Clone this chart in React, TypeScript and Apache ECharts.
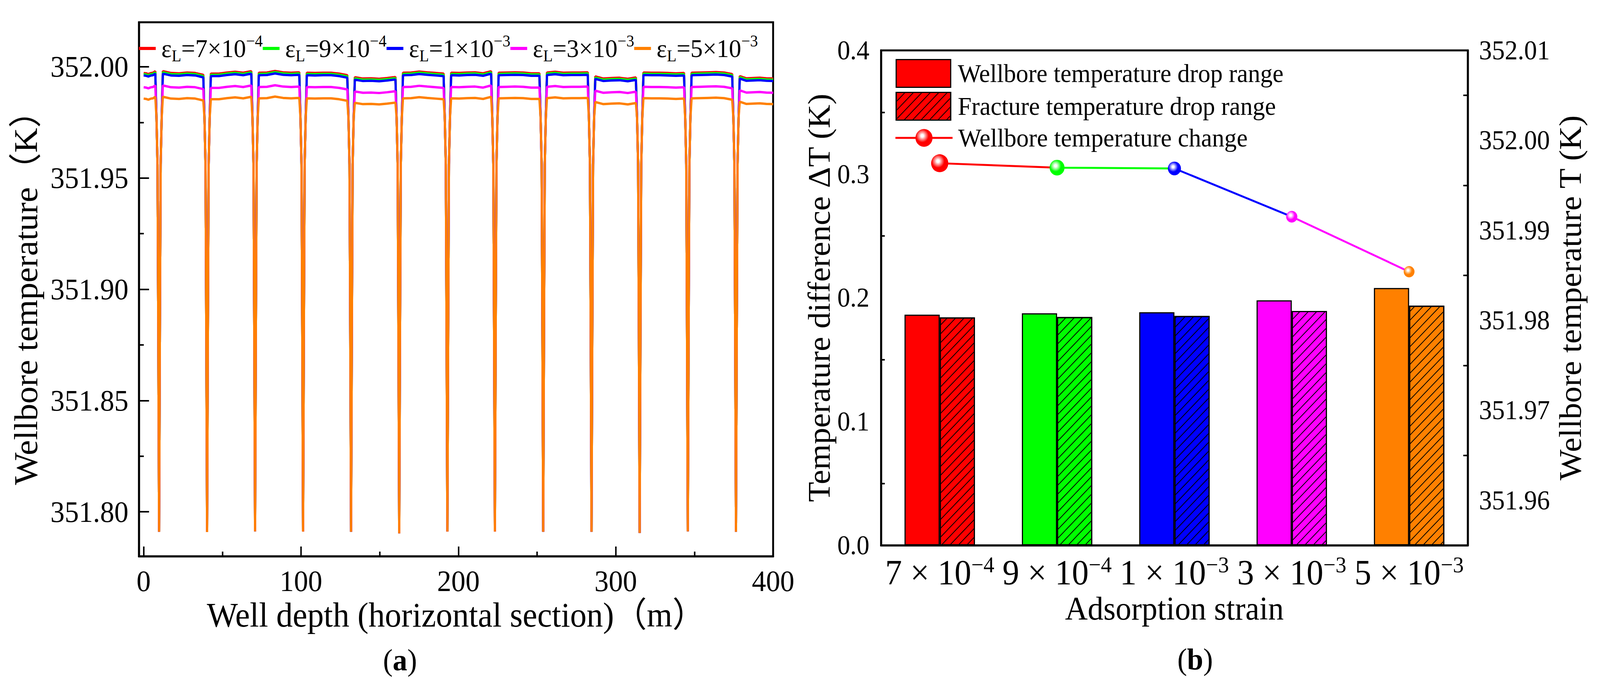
import React, { useEffect, useRef } from 'react';
import * as echarts from 'echarts';

// ---------------- Panel (a) data ----------------
const STRAIN_COEF = ['7', '9', '1', '3', '5'];
const STRAIN_EXP = ['−4', '−4', '−3', '−3', '−3'];
const CURVE_COLORS = ['#ff0000', '#00ff00', '#0000ff', '#ff00ff', '#ff8000'];
const CURVE_LIGHT = ['#ff9c9c', '#a8ffa8', '#a0a0ff', '#ffa8ff', '#ffc890'];

// plateau temperature (K) of each curve on a normal segment
const PLATEAU_LEVEL = [351.9974, 351.9969, 351.9963, 351.991, 351.9859];
// fracture (dip) centres along the horizontal section (m)
const DIP_X = [9.8, 40.3, 70.8, 101.3, 131.8, 162.4, 193.0, 223.2, 253.9, 284.6, 315.2, 345.8, 376.4];
// dip bottom temperatures (K)
const DIP_MIN = [351.791, 351.7909, 351.7912, 351.7911, 351.791, 351.7903, 351.7911, 351.7911, 351.791, 351.791, 351.7905, 351.7912, 351.791];
// dip walls: distance from the centre (m) and temperature (K)
const DIP_WALL_DX = [1.65, 1.0, 0.5];
const DIP_WALL_T = [351.977, 351.956, 351.88];
const DIP_HALF_WIDTH = 2.4;
// deviation from the plateau level (mK) read at six even stations of each segment
const SEG_OFFSET_MK = [
  [-0.2, -0.35, -0.7, -0.25, -0.1, 0.6],
  [0.6, -0.2, -0.35, 0, -0.2, -1.05],
  [-0.5, -0.5, 0, 0.35, -0.1, 0.6],
  [-0.1, 0, 0.7, 0.1, -0.1, 0.1],
  [-0.1, -0.2, -0.1, -0.1, -0.5, -1.2],
  [-2.1, -2.7, -2.6, -2.8, -2.45, -2.0],
  [-0.1, 0, 0.45, 0.1, -0.2, -0.5],
  [-0.1, -0.2, 0, 0.1, -0.35, 0.6],
  [-0.1, 0, 0.1, 0, -0.35, -0.35],
  [0, 0.35, -0.1, 0, 0, 0.1],
  [-1.75, -2.7, -2.45, -2.35, -2.8, -2.2],
  [0, -0.1, -0.1, -0.2, -0.35, -0.2],
  [-0.1, 0, 0.1, 0.2, 0, -0.7],
  [-1.6, -2.6, -2.45, -2.35, -2.6, -2.7],
];
const X_END = 400;

// ---------------- Panel (b) data ----------------
const DROP_WELLBORE = [0.1864, 0.1875, 0.1884, 0.198, 0.208];
const DROP_FRACTURE = [0.1842, 0.1845, 0.1854, 0.1894, 0.1937];
const WELLBORE_T = [351.99746, 351.99697, 351.99688, 351.99152, 351.98541];
const MARKER_SIZE = [46, 40, 35, 30, 29];

const FONT = "'Liberation Serif', 'Times New Roman', 'Noto Sans CJK SC', serif";
const PAGE_W = 4284;
const PAGE_H = 1774;
// the photographed area is 4096 px wide: fit the 4284-px layout into it
const FIT_X = 4096 / PAGE_W;

function buildCurve(level: number): [number, number][] {
  const pts: [number, number][] = [];
  const nSeg = SEG_OFFSET_MK.length;
  for (let k = 0; k < nSeg; k++) {
    const xL = k === 0 ? 0 : DIP_X[k - 1] + DIP_HALF_WIDTH;
    const xR = k === nSeg - 1 ? X_END : DIP_X[k] - DIP_HALF_WIDTH;
    const offs = SEG_OFFSET_MK[k];
    offs.forEach((o, j) => {
      pts.push([xL + ((xR - xL) * j) / (offs.length - 1), level + o / 1000]);
    });
    if (k < DIP_X.length) {
      const c = DIP_X[k];
      for (let w = 0; w < DIP_WALL_DX.length; w++) pts.push([c - DIP_WALL_DX[w], DIP_WALL_T[w]]);
      pts.push([c, DIP_MIN[k]]);
      for (let w = DIP_WALL_DX.length - 1; w >= 0; w--) pts.push([c + DIP_WALL_DX[w], DIP_WALL_T[w]]);
    }
  }
  return pts;
}

function ball(i: number) {
  return new echarts.graphic.RadialGradient(0.4, 0.38, 0.62, [
    { offset: 0, color: '#ffffff' },
    { offset: 0.12, color: '#ffffff' },
    { offset: 0.3, color: CURVE_LIGHT[i] },
    { offset: 0.6, color: CURVE_COLORS[i] },
    { offset: 1, color: CURVE_COLORS[i] },
  ]);
}

const isMultiple = (v: number, step: number) => Math.abs(v / step - Math.round(v / step)) < 1e-6;

export default function App() {
  const ref = useRef<HTMLDivElement>(null);

  useEffect(() => {
    document.body.style.margin = '0';
    const chart = echarts.init(ref.current!, null, { renderer: 'svg', width: PAGE_W, height: PAGE_H });

    const curveNames = STRAIN_COEF.map((c, i) => `εL=${c}×10${STRAIN_EXP[i]}`);
    const categories = STRAIN_COEF.map((c, i) => `${c} × 10${STRAIN_EXP[i]}`);

    const axisLine = { show: true, onZero: false, lineStyle: { color: '#000', width: 5 } };
    const tickStyle = { color: '#000', width: 4 };

    const lineGradient = new echarts.graphic.LinearGradient(0, 0, 1, 0, [
      { offset: 0, color: CURVE_COLORS[0] },
      { offset: 0.25, color: CURVE_COLORS[0] },
      { offset: 0.25, color: CURVE_COLORS[1] },
      { offset: 0.5, color: CURVE_COLORS[1] },
      { offset: 0.5, color: CURVE_COLORS[2] },
      { offset: 0.75, color: CURVE_COLORS[2] },
      { offset: 0.75, color: CURVE_COLORS[3] },
      { offset: 1, color: CURVE_COLORS[3] },
    ]);

    const option: any = {
      animation: false,
      backgroundColor: '#ffffff',
      textStyle: { fontFamily: FONT },
      grid: [
        { left: 372, top: 57, width: 1698, height: 1367, show: true, borderColor: '#000', borderWidth: 5, outerBoundsMode: 'none', containLabel: false },
        { left: 2359, top: 129, width: 1571, height: 1267, show: true, borderColor: '#000', borderWidth: 5, outerBoundsMode: 'none', containLabel: false },
      ],
      legend: [
        {
          data: curveNames,
          left: 372,
          top: 84,
          padding: 0,
          itemWidth: 45,
          itemHeight: 8,
          itemGap: 0,
          icon: 'rect',
          formatter: (name: string) => {
            const i = curveNames.indexOf(name);
            return `{e|ε}{sub|L}{e|=${STRAIN_COEF[i]}×10}{sup|${STRAIN_EXP[i]}}`;
          },
          textStyle: {
            padding: [0, 0, 0, 10],
            color: '#000',
            fontFamily: FONT,
            rich: {
              e: { fontSize: 66, fontFamily: FONT, color: '#000', lineHeight: 80, verticalAlign: 'middle' },
              sub: { fontSize: 42, fontFamily: FONT, color: '#000', lineHeight: 42, verticalAlign: 'bottom' },
              sup: { fontSize: 42, fontFamily: FONT, color: '#000', lineHeight: 42, verticalAlign: 'top' },
            },
          },
        },
        {
          data: ['Wellbore temperature drop range', 'Fracture temperature drop range'],
          orient: 'vertical',
          left: 2398,
          top: 151,
          padding: 0,
          itemWidth: 146,
          itemHeight: 71,
          itemGap: 10,
          icon: 'rect',
          itemStyle: { borderColor: '#000', borderWidth: 3 },
          textStyle: { fontSize: 66, fontFamily: FONT, color: '#000', padding: [0, 0, 0, 14] },
        },
        {
          data: [
            {
              name: 'Wellbore temperature change',
              lineStyle: { color: CURVE_COLORS[0], width: 5 },
              itemStyle: { color: ball(0) },
            },
          ],
          left: 2395,
          top: 320,
          padding: 0,
          itemWidth: 153,
          itemHeight: 57,
          textStyle: { fontSize: 66, fontFamily: FONT, color: '#000', padding: [0, 0, 0, 10] },
        },
      ],
      xAxis: [
        {
          type: 'value',
          gridIndex: 0,
          min: -3,
          max: X_END,
          splitNumber: 5,
          axisLine,
          axisTick: { inside: true, length: 25, lineStyle: tickStyle },
          minorTick: { show: true, splitNumber: 2, length: 12, lineStyle: tickStyle },
          splitLine: { show: false },
          minorSplitLine: { show: false },
          axisLabel: {
            margin: 25,
            fontSize: 76,
            fontFamily: FONT,
            color: '#000',
            formatter: (v: number) => (isMultiple(v, 100) ? String(Math.round(v)) : ''),
          },
          name: 'Well depth (horizontal section)（m）',
          nameLocation: 'middle',
          nameGap: 101,
          nameTextStyle: { fontSize: 88, fontFamily: FONT, color: '#000' },
        },
        {
          type: 'category',
          gridIndex: 1,
          data: categories,
          axisLine,
          axisTick: { inside: true, length: 13, lineStyle: tickStyle },
          splitLine: { show: false },
          axisLabel: {
            interval: 0,
            margin: 20,
            hideOverlap: false,
            formatter: (_v: string, idx: number) => `{n|${STRAIN_COEF[idx]} × 10}{s|${STRAIN_EXP[idx]}}`,
            rich: {
              n: { fontSize: 90, fontFamily: FONT, color: '#000', lineHeight: 100, verticalAlign: 'middle' },
              s: { fontSize: 58, fontFamily: FONT, color: '#000', lineHeight: 40, verticalAlign: 'top' },
            },
          },
          name: 'Adsorption strain',
          nameLocation: 'middle',
          nameGap: 108,
          nameTextStyle: { fontSize: 84, fontFamily: FONT, color: '#000' },
        },
      ],
      yAxis: [
        {
          type: 'value',
          gridIndex: 0,
          min: 351.78,
          max: 352.02,
          splitNumber: 5,
          axisLine,
          axisTick: { inside: true, length: 27, lineStyle: tickStyle },
          minorTick: { show: true, splitNumber: 2, length: 13, lineStyle: tickStyle },
          splitLine: { show: false },
          minorSplitLine: { show: false },
          axisLabel: {
            margin: 28,
            fontSize: 76,
            fontFamily: FONT,
            color: '#000',
            formatter: (v: number) => (isMultiple(v, 0.05) ? v.toFixed(2) : ''),
          },
          name: 'Wellbore temperature（K）',
          nameLocation: 'middle',
          nameRotate: 90,
          nameGap: 258,
          nameTextStyle: { fontSize: 88, fontFamily: FONT, color: '#000' },
        },
        {
          type: 'value',
          gridIndex: 1,
          min: 0,
          max: 0.4,
          interval: 0.1,
          axisLine,
          axisTick: { inside: true, length: 23, lineStyle: tickStyle },
          minorTick: { show: true, splitNumber: 2, length: 10, lineStyle: tickStyle },
          splitLine: { show: false },
          minorSplitLine: { show: false },
          axisLabel: {
            margin: 31,
            fontSize: 69,
            fontFamily: FONT,
            color: '#000',
            formatter: (v: number) => v.toFixed(1),
          },
          name: 'Temperature difference ΔT (K)',
          nameLocation: 'middle',
          nameRotate: 90,
          nameGap: 124,
          nameTextStyle: { fontSize: 84, fontFamily: FONT, color: '#000' },
        },
        {
          type: 'value',
          gridIndex: 1,
          position: 'right',
          min: 351.955,
          max: 352.01,
          splitNumber: 5,
          axisLine,
          axisTick: { inside: true, length: 22, lineStyle: tickStyle },
          minorTick: { show: true, splitNumber: 2, length: 12, lineStyle: tickStyle },
          splitLine: { show: false },
          minorSplitLine: { show: false },
          axisLabel: {
            margin: 30,
            fontSize: 69,
            fontFamily: FONT,
            color: '#000',
            formatter: (v: number) => (isMultiple(v, 0.01) ? v.toFixed(2) : ''),
          },
          name: 'Wellbore temperature T (K)',
          nameLocation: 'middle',
          nameRotate: 90,
          nameGap: 233,
          nameTextStyle: { fontSize: 84, fontFamily: FONT, color: '#000' },
        },
      ],
      series: [
        ...PLATEAU_LEVEL.map((lvl, i) => ({
          name: curveNames[i],
          type: 'line',
          xAxisIndex: 0,
          yAxisIndex: 0,
          data: buildCurve(lvl),
          showSymbol: false,
          symbol: 'none',
          silent: true,
          color: CURVE_COLORS[i],
          lineStyle: { color: CURVE_COLORS[i], width: 6 },
          itemStyle: { color: CURVE_COLORS[i] },
        })),
        {
          name: 'Wellbore temperature drop range',
          type: 'bar',
          xAxisIndex: 1,
          yAxisIndex: 1,
          barWidth: '30%',
          barGap: '0%',
          itemStyle: { color: CURVE_COLORS[0], borderColor: '#000', borderWidth: 3 },
          data: DROP_WELLBORE.map((v, i) => ({ value: v, itemStyle: { color: CURVE_COLORS[i] } })),
        },
        {
          name: 'Fracture temperature drop range',
          type: 'bar',
          xAxisIndex: 1,
          yAxisIndex: 1,
          barWidth: '30%',
          barGap: '0%',
          itemStyle: {
            color: CURVE_COLORS[0],
            borderColor: '#000',
            borderWidth: 3,
            decal: {
              symbol: 'rect',
              symbolSize: 1,
              color: '#000',
              dashArrayX: [1, 0],
              dashArrayY: [2, 14],
              rotation: -Math.PI / 4,
            },
          },
          data: DROP_FRACTURE.map((v, i) => ({ value: v, itemStyle: { color: CURVE_COLORS[i] } })),
        },
        {
          name: 'Wellbore temperature change',
          type: 'line',
          xAxisIndex: 1,
          yAxisIndex: 2,
          symbol: 'circle',
          z: 5,
          lineStyle: { width: 5, color: lineGradient },
          itemStyle: { color: ball(0) },
          data: WELLBORE_T.map((v, i) => ({ value: v, symbolSize: MARKER_SIZE[i], itemStyle: { color: ball(i) } })),
        },
      ],
      graphic: [
        {
          type: 'text',
          x: 1071,
          y: 1690,
          style: {
            text: '{n|(}{b|a}{n|)}',
            align: 'center',
            verticalAlign: 'middle',
            fill: '#000',
            rich: {
              n: { fontSize: 78, fontFamily: FONT, fill: '#000' },
              b: { fontSize: 78, fontFamily: FONT, fontWeight: 'bold', fill: '#000' },
            },
          },
        },
        {
          type: 'text',
          x: 3200,
          y: 1688,
          style: {
            text: '{n|(}{b|b}{n|)}',
            align: 'center',
            verticalAlign: 'middle',
            fill: '#000',
            rich: {
              n: { fontSize: 78, fontFamily: FONT, fill: '#000' },
              b: { fontSize: 78, fontFamily: FONT, fontWeight: 'bold', fill: '#000' },
            },
          },
        },
      ],
    };

    chart.setOption(option);
    return () => chart.dispose();
  }, []);

  return (
    <div
      style={{
        position: 'fixed',
        left: 0,
        top: 0,
        width: `${PAGE_W}px`,
        height: `${PAGE_H}px`,
        transform: `scaleX(${FIT_X})`,
        transformOrigin: '0 0',
        background: '#fff',
      }}
    >
      <div ref={ref} style={{ width: `${PAGE_W}px`, height: `${PAGE_H}px` }} />
    </div>
  );
}
